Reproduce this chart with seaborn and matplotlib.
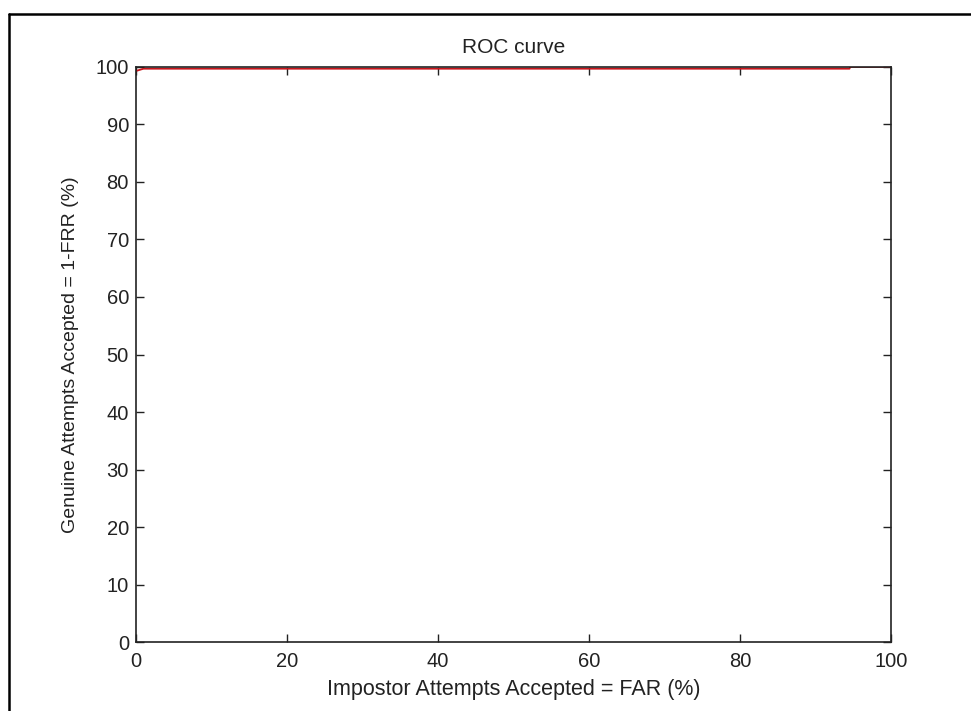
import pandas as pd
import numpy as np
import matplotlib
matplotlib.use('Agg')
import matplotlib.pyplot as plt
import seaborn as sns

sns.set_style('white')
plt.rcParams['font.family'] = ['Liberation Sans', 'DejaVu Sans']

# ROC curve values
far = [0, 1, 94.5, 94.6, 100]
gar = [99.3, 99.7, 99.7, 100, 100]
xticks = [0, 20, 40, 60, 80, 100]
yticks = [0, 10, 20, 30, 40, 50, 60, 70, 80, 90, 100]

df = pd.DataFrame({'far': far, 'gar': gar})

fig = plt.figure(figsize=(9.71, 7.11), dpi=100)
ax = fig.add_axes([0.140, 0.097, 0.7776, 0.8088])

sns.lineplot(data=df, x='far', y='gar', sort=False, color='#c8141a',
             linewidth=1.3, ax=ax, zorder=1)

ax.set_xlim(0, 100)
ax.set_ylim(0, 100)
ax.set_xticks(xticks)
ax.set_yticks(yticks)
ax.tick_params(direction='in', length=6, width=1, colors='#222222',
               labelcolor='#222222', labelsize=14.5, top=True, right=True,
               bottom=True, left=True)
ax.tick_params(axis='x', pad=7)
ax.tick_params(axis='y', pad=5)
for s in ax.spines.values():
    s.set_color('#222222')
    s.set_linewidth(1.2)
    s.set_zorder(3)

ax.set_xlabel('Impostor Attempts Accepted = FAR (%)', fontsize=15.5,
              color='#222222', labelpad=6)
ax.set_ylabel('Genuine Attempts Accepted = 1-FRR (%)', fontsize=14,
              color='#222222', labelpad=12)
ax.set_title('ROC curve', fontsize=15, color='#222222', pad=10)

# outer frame of the screenshot (top and left edges only)
fig.add_artist(plt.Line2D([9 / 971, 1.0], [1 - 14 / 711, 1 - 14 / 711],
                          transform=fig.transFigure, color='black', lw=1.8))
fig.add_artist(plt.Line2D([9 / 971, 9 / 971], [0, 1 - 14 / 711],
                          transform=fig.transFigure, color='black', lw=1.8))

fig.savefig('out.png', dpi=100)
